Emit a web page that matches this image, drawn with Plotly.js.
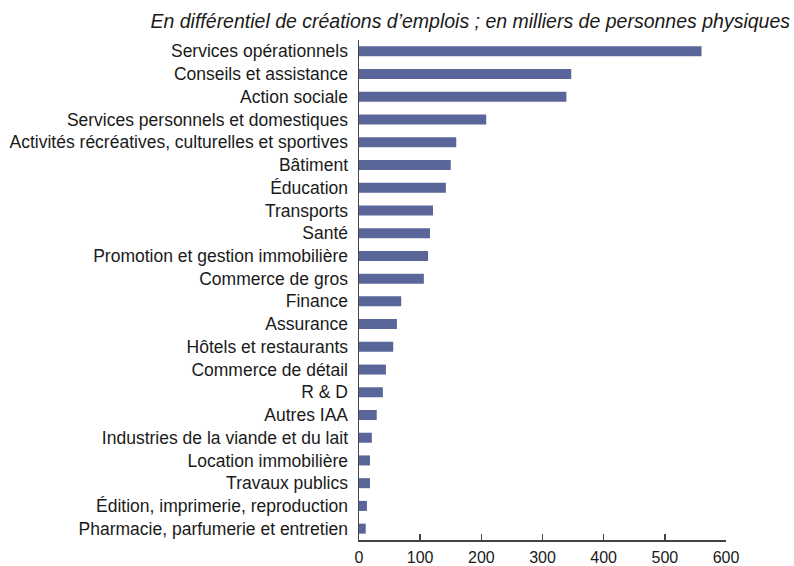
<!DOCTYPE html>
<html><head><meta charset="utf-8">
<script src="https://cdn.plot.ly/plotly-3.0.1.min.js"></script>
<style>body{margin:0;background:#fff}#c{width:794px;height:566px}</style>
</head><body><div id="c"></div>
<script>
const categories = [
  "Services opérationnels","Conseils et assistance","Action sociale","Services personnels et domestiques",
  "Activités récréatives, culturelles et sportives","Bâtiment","Éducation","Transports","Santé",
  "Promotion et gestion immobilière","Commerce de gros","Finance","Assurance","Hôtels et restaurants",
  "Commerce de détail","R & D","Autres IAA","Industries de la viande et du lait","Location immobilière",
  "Travaux publics","Édition, imprimerie, reproduction","Pharmacie, parfumerie et entretien"
];
const values = [560,347,339,208,159,150,142,121,116,113,106,69,62,56,44,39,29,21,18,18,13,11];
const xTicks = [0,100,200,300,400,500,600];
const titleText = "En différentiel de créations d’emplois ; en milliers de personnes physiques";

const font = "'Liberation Sans', Arial, sans-serif";
Plotly.newPlot('c', [{
  type:'bar', orientation:'h', x: values, y: categories,
  marker:{color:'#5a6699'}, width:0.44, hoverinfo:'x+y'
}], {
  width:794, height:566,
  margin:{l:359, r:68, t:39.6, b:25.6},
  paper_bgcolor:'#fff', plot_bgcolor:'#fff',
  font:{family:font, size:17, color:'#1a1a1a'},
  title:{text:titleText, font:{family:font, size:19.5, style:'italic', color:'#1a1a1a'},
    xref:'container', x:0.995, xanchor:'right', yref:'container', y:0.975, yanchor:'top'},
  xaxis:{range:[0,600], tickvals:xTicks, ticktext:xTicks.map(String), showgrid:false, zeroline:false,
    showline:true, linecolor:'#444', linewidth:1.5, ticks:'inside', ticklen:6, tickcolor:'#444', tickwidth:1.5,
    ticklabelstandoff:2, tickfont:{size:16}},
  yaxis:{autorange:'reversed', showgrid:false, zeroline:false, showline:true, linecolor:'#444', linewidth:1.5,
    ticks:'', ticklabelstandoff:6, tickfont:{size:17.5}},
  showlegend:false
}, {displayModeBar:false, staticPlot:true});
</script></body></html>
